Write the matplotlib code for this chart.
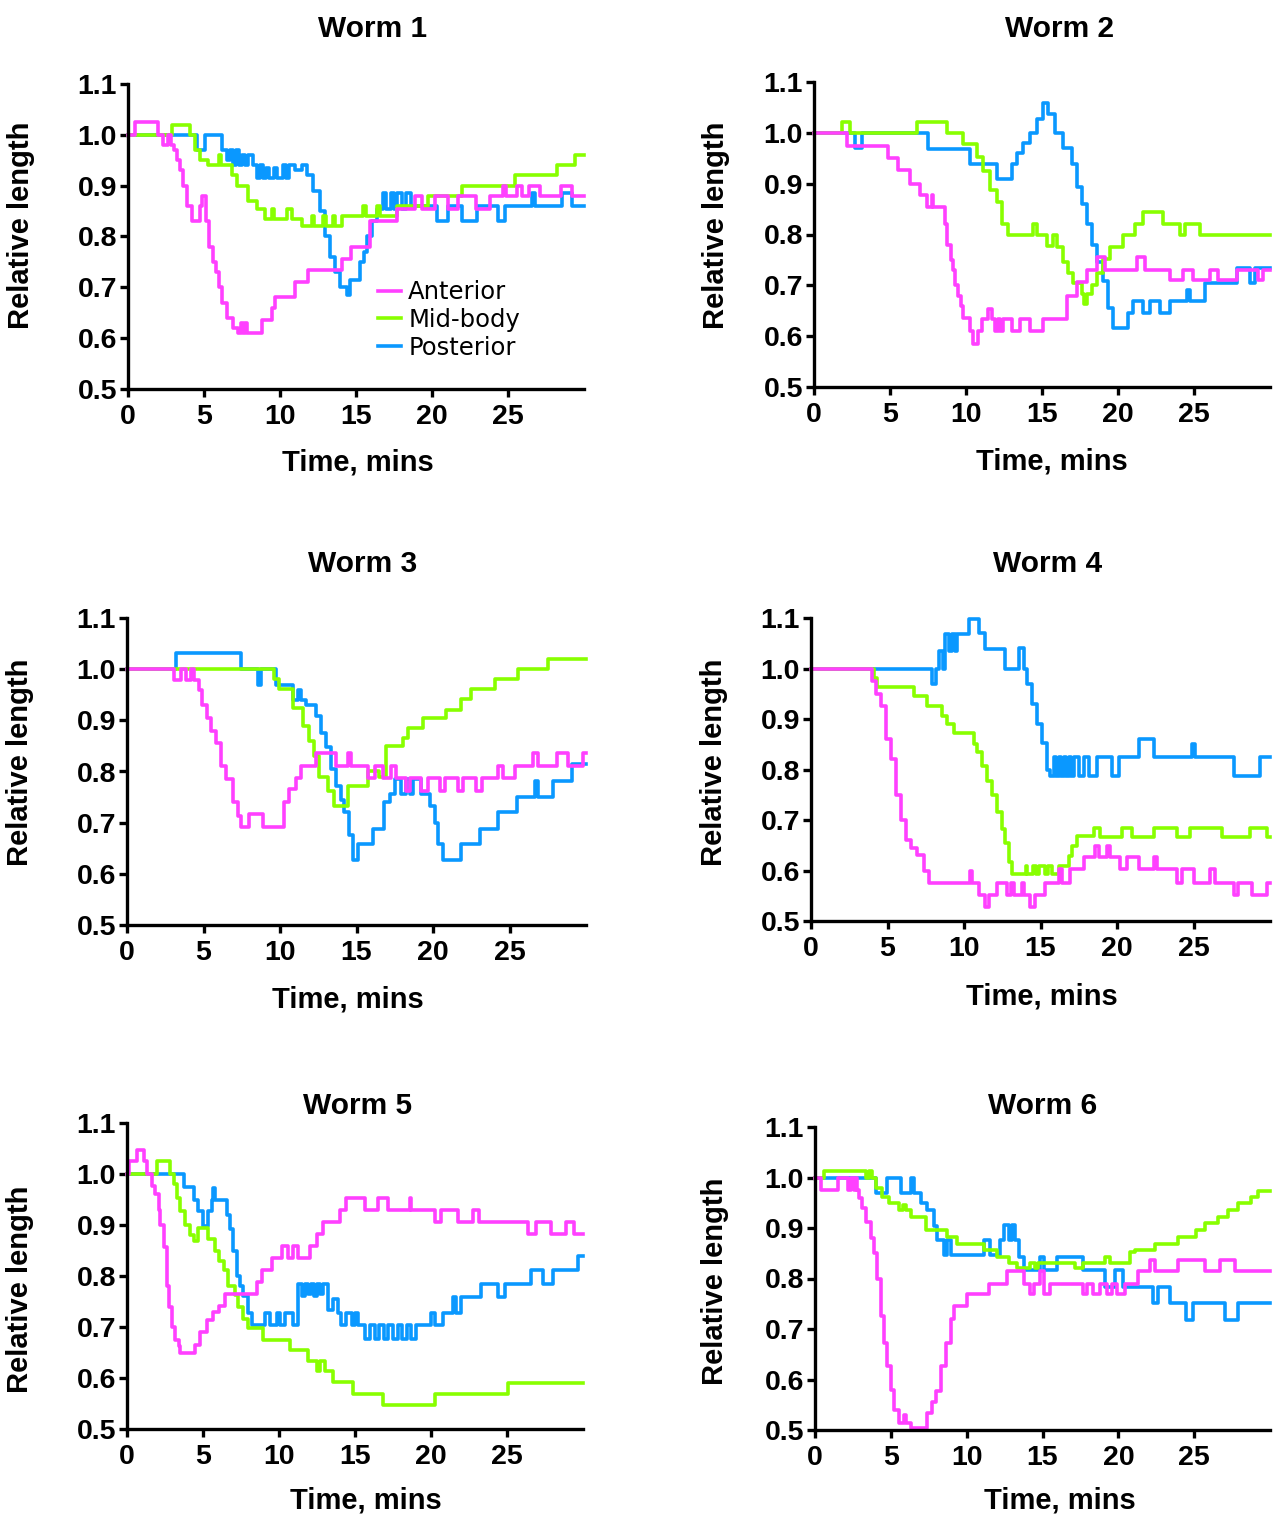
import numpy as np
import matplotlib
matplotlib.use("Agg")
from matplotlib import pyplot as plt, ticker as mtick

# Step traces: (time in mins, relative length) at each change
w1_anterior = [(0, 1.0), (0.46, 1.025), (2.0, 1.0), (2.3, 0.98), (2.6, 1.0), (2.8, 0.98), (3.0, 0.97), (3.2, 0.95),
               (3.4, 0.93), (3.6, 0.90), (3.9, 0.86), (4.19, 0.83), (4.74, 0.86), (4.9, 0.88), (5.1, 0.83), (5.3, 0.78),
               (5.6, 0.75), (5.8, 0.73), (6.0, 0.70), (6.2, 0.67), (6.5, 0.64), (6.9, 0.62), (7.26, 0.61), (7.45, 0.63),
               (7.55, 0.61), (7.7, 0.63), (7.8, 0.61), (8.8, 0.635), (9.45, 0.66), (9.67, 0.68), (10.99, 0.71),
               (11.86, 0.735), (14.06, 0.755), (14.7, 0.78), (15.9, 0.83), (17.7, 0.855), (18.88, 0.88), (19.32, 0.855),
               (20.2, 0.88), (21.07, 0.855), (21.7, 0.88), (22.9, 0.855), (23.8, 0.88), (24.7, 0.90), (24.9, 0.88),
               (25.6, 0.90), (25.9, 0.88), (26.4, 0.90), (27.1, 0.88), (28.5, 0.90), (29.2, 0.88), (30.0, 0.88)]
w1_midbody = [(0, 1.0), (2.87, 1.02), (4.08, 1.0), (4.41, 0.97), (4.74, 0.95), (5.29, 0.94), (6.0, 0.96), (6.15, 0.94),
              (6.82, 0.92), (7.15, 0.90), (7.92, 0.87), (8.47, 0.855), (9.01, 0.835), (9.45, 0.855), (9.6, 0.835),
              (10.44, 0.855), (10.77, 0.835), (11.43, 0.82), (12.08, 0.84), (12.25, 0.82), (12.85, 0.84), (13.0, 0.82),
              (13.51, 0.84), (13.65, 0.82), (14.06, 0.84), (15.48, 0.86), (15.65, 0.84), (16.36, 0.86), (16.55, 0.84),
              (17.67, 0.86), (19.76, 0.88), (21.95, 0.90), (25.46, 0.92), (28.2, 0.94), (29.4, 0.96), (30.0, 0.96)]
w1_posterior = [(0, 1.0), (4.52, 0.97), (5.07, 1.0), (6.16, 0.97), (6.49, 0.95), (6.7, 0.97), (6.9, 0.94), (7.1, 0.97),
                (7.3, 0.94), (7.5, 0.96), (7.7, 0.94), (7.9, 0.96), (8.25, 0.94), (8.5, 0.915), (8.7, 0.94), (8.9, 0.915),
                (9.1, 0.935), (9.3, 0.915), (9.6, 0.935), (9.8, 0.915), (10.2, 0.94), (10.4, 0.915), (10.6, 0.94),
                (11.0, 0.93), (11.43, 0.94), (11.75, 0.92), (12.19, 0.89), (12.63, 0.85), (12.96, 0.80), (13.29, 0.76),
                (13.62, 0.73), (13.95, 0.70), (14.39, 0.685), (14.61, 0.715), (15.26, 0.75), (15.5, 0.77), (15.7, 0.80),
                (16.03, 0.83), (16.36, 0.855), (16.8, 0.885), (17.0, 0.855), (17.3, 0.885), (17.5, 0.855), (17.67, 0.885),
                (18.0, 0.855), (18.3, 0.885), (18.6, 0.86), (20.3, 0.83), (21.07, 0.86), (21.95, 0.83), (22.94, 0.86),
                (24.36, 0.83), (24.8, 0.86), (26.56, 0.885), (26.78, 0.86), (28.53, 0.885), (29.2, 0.86), (30.0, 0.86)]

w2_anterior = [(0, 1.0), (2.15, 0.974), (4.89, 0.95), (5.55, 0.926), (6.32, 0.90), (6.97, 0.877), (7.41, 0.854),
               (7.74, 0.877), (7.85, 0.854), (8.62, 0.82), (8.75, 0.78), (9.0, 0.75), (9.17, 0.73), (9.3, 0.70),
               (9.5, 0.68), (9.65, 0.66), (9.82, 0.635), (10.26, 0.61), (10.48, 0.585), (10.81, 0.61), (11.03, 0.633),
               (11.47, 0.653), (11.69, 0.633), (11.91, 0.61), (12.1, 0.633), (12.24, 0.61), (12.46, 0.633), (13.0, 0.61),
               (13.55, 0.633), (14.21, 0.61), (15.09, 0.633), (16.62, 0.68), (17.28, 0.706), (17.94, 0.73), (18.6, 0.755),
               (19.14, 0.73), (21.23, 0.755), (21.78, 0.73), (23.42, 0.71), (24.3, 0.73), (24.96, 0.71), (26.05, 0.73),
               (26.6, 0.71), (27.81, 0.73), (29.23, 0.71), (29.56, 0.73), (30.0, 0.73)]
w2_midbody = [(0, 1.0), (1.82, 1.022), (2.37, 1.0), (6.75, 1.022), (8.73, 1.0), (9.82, 0.979), (10.7, 0.953),
              (11.14, 0.924), (11.58, 0.887), (12.02, 0.864), (12.35, 0.82), (12.79, 0.80), (14.43, 0.82), (14.65, 0.80),
              (15.31, 0.778), (15.75, 0.80), (15.96, 0.775), (16.4, 0.745), (16.73, 0.725), (17.06, 0.705), (17.61, 0.682),
              (17.75, 0.664), (17.94, 0.682), (18.27, 0.70), (18.6, 0.725), (19.04, 0.752), (19.47, 0.775), (20.35, 0.80),
              (21.12, 0.82), (21.67, 0.845), (22.98, 0.82), (24.08, 0.80), (24.41, 0.82), (25.39, 0.80), (30.0, 0.80)]
w2_posterior = [(0, 1.0), (2.7, 0.97), (3.14, 1.0), (7.52, 0.969), (10.26, 0.939), (12.02, 0.91), (13.0, 0.939),
                (13.33, 0.96), (13.77, 0.98), (14.21, 1.0), (14.65, 1.028), (15.09, 1.058), (15.42, 1.038), (15.86, 1.0),
                (16.4, 0.97), (16.95, 0.939), (17.28, 0.893), (17.61, 0.86), (17.94, 0.82), (18.27, 0.78), (18.6, 0.745),
                (19.04, 0.709), (19.36, 0.656), (19.69, 0.617), (20.68, 0.646), (21.01, 0.669), (21.67, 0.646),
                (22.1, 0.669), (22.76, 0.646), (23.42, 0.669), (24.52, 0.69), (24.74, 0.669), (25.72, 0.705),
                (27.81, 0.735), (28.68, 0.705), (29.01, 0.735), (30.0, 0.735)]

w3_anterior = [(0, 1.0), (3.08, 0.978), (3.52, 1.0), (3.84, 0.978), (4.17, 1.0), (4.39, 0.978), (4.72, 0.96),
               (4.93, 0.93), (5.2, 0.905), (5.48, 0.88), (5.81, 0.856), (6.14, 0.811), (6.46, 0.785), (6.9, 0.74),
               (7.23, 0.714), (7.45, 0.691), (7.99, 0.717), (8.86, 0.691), (10.28, 0.741), (10.61, 0.766),
               (11.05, 0.788), (11.38, 0.811), (12.36, 0.836), (13.67, 0.811), (14.43, 0.836), (14.65, 0.811),
               (15.74, 0.788), (16.18, 0.811), (16.72, 0.788), (17.27, 0.811), (17.6, 0.788), (18.25, 0.762),
               (18.47, 0.788), (19.24, 0.762), (19.67, 0.788), (20.44, 0.762), (20.76, 0.788), (21.64, 0.762),
               (21.97, 0.788), (22.84, 0.762), (23.17, 0.788), (24.26, 0.811), (24.59, 0.788), (25.35, 0.811),
               (26.55, 0.836), (26.88, 0.811), (28.08, 0.836), (28.84, 0.811), (29.83, 0.836), (30.0, 0.836)]
w3_midbody = [(0, 1.0), (9.63, 0.98), (9.96, 0.962), (10.83, 0.924), (11.48, 0.889), (11.92, 0.86), (12.25, 0.83),
              (12.58, 0.79), (13.12, 0.762), (13.56, 0.733), (14.43, 0.772), (15.74, 0.80), (16.5, 0.79),
              (16.94, 0.849), (18.03, 0.865), (18.36, 0.885), (19.34, 0.905), (20.87, 0.921), (21.86, 0.942),
              (22.51, 0.961), (24.04, 0.981), (25.57, 1.0), (27.53, 1.019), (30.0, 1.019)]
w3_posterior = [(0, 1.0), (3.19, 1.031), (7.45, 1.0), (8.54, 0.97), (8.76, 1.0), (9.74, 0.97), (10.83, 0.94),
                (11.2, 0.96), (11.4, 0.94), (11.7, 0.93), (12.36, 0.908), (12.69, 0.876), (13.01, 0.847), (13.34, 0.805),
                (13.67, 0.772), (14.0, 0.745), (14.21, 0.72), (14.54, 0.675), (14.76, 0.627), (15.09, 0.659),
                (16.07, 0.688), (16.83, 0.74), (17.16, 0.756), (17.49, 0.785), (17.93, 0.756), (18.25, 0.785),
                (18.47, 0.756), (18.69, 0.785), (19.24, 0.756), (19.78, 0.733), (20.11, 0.70), (20.33, 0.659),
                (20.66, 0.627), (21.86, 0.659), (23.06, 0.688), (24.26, 0.72), (25.46, 0.751), (26.66, 0.782),
                (26.88, 0.751), (27.86, 0.782), (29.06, 0.814), (30.0, 0.814)]

w4_anterior = [(0, 1.0), (4.0, 0.976), (4.22, 0.95), (4.55, 0.926), (4.87, 0.86), (5.2, 0.82), (5.53, 0.75),
               (5.85, 0.70), (6.18, 0.66), (6.51, 0.645), (6.94, 0.63), (7.38, 0.60), (7.7, 0.575), (10.42, 0.60),
               (10.53, 0.575), (10.97, 0.551), (11.4, 0.527), (11.62, 0.551), (12.17, 0.575), (12.82, 0.551),
               (13.04, 0.575), (13.25, 0.551), (13.8, 0.575), (13.91, 0.551), (14.34, 0.527), (14.67, 0.551),
               (15.32, 0.575), (16.19, 0.603), (16.41, 0.575), (16.95, 0.603), (17.82, 0.626), (18.59, 0.649),
               (18.8, 0.626), (19.35, 0.649), (19.56, 0.626), (20.22, 0.603), (20.65, 0.626), (21.41, 0.603),
               (22.39, 0.626), (22.61, 0.603), (23.92, 0.575), (24.24, 0.603), (25.01, 0.575), (26.09, 0.603),
               (26.42, 0.575), (27.62, 0.551), (27.94, 0.575), (28.81, 0.551), (29.79, 0.575), (30.0, 0.575)]
w4_midbody = [(0, 1.0), (4.11, 0.982), (4.33, 0.964), (6.72, 0.945), (7.6, 0.926), (8.57, 0.905), (8.9, 0.89),
              (9.34, 0.872), (10.64, 0.85), (10.86, 0.834), (11.19, 0.807), (11.51, 0.778), (11.84, 0.75),
              (12.17, 0.715), (12.49, 0.682), (12.71, 0.655), (12.93, 0.616), (13.14, 0.593), (14.02, 0.609),
              (14.12, 0.593), (14.5, 0.609), (14.7, 0.593), (14.89, 0.609), (15.3, 0.593), (15.5, 0.609),
              (15.76, 0.593), (16.19, 0.609), (16.84, 0.629), (17.06, 0.649), (17.39, 0.669), (18.48, 0.685),
              (18.91, 0.667), (20.33, 0.685), (20.98, 0.667), (22.39, 0.685), (23.92, 0.667), (24.79, 0.685),
              (26.86, 0.667), (28.71, 0.685), (29.79, 0.667), (30.0, 0.667)]
w4_posterior = [(0, 1.0), (7.92, 0.97), (8.14, 1.0), (8.36, 1.035), (8.6, 1.0), (8.79, 1.068), (9.0, 1.035),
                (9.23, 1.068), (9.4, 1.035), (9.55, 1.068), (10.32, 1.098), (10.97, 1.07), (11.4, 1.038), (12.71, 1.0),
                (13.58, 1.04), (13.91, 1.0), (14.12, 0.97), (14.45, 0.93), (14.78, 0.89), (15.1, 0.853), (15.43, 0.80),
                (15.65, 0.787), (15.87, 0.824), (16.03, 0.787), (16.19, 0.824), (16.35, 0.787), (16.52, 0.824),
                (16.68, 0.787), (16.84, 0.824), (17.0, 0.787), (17.17, 0.824), (17.5, 0.787), (17.82, 0.824),
                (18.15, 0.787), (18.69, 0.824), (19.67, 0.787), (20.11, 0.824), (21.41, 0.86), (22.39, 0.824),
                (24.9, 0.85), (25.11, 0.824), (27.62, 0.787), (29.36, 0.824), (30.0, 0.824)]

w5_anterior = [(0, 1.0), (0.11, 1.025), (0.66, 1.047), (1.09, 1.025), (1.31, 1.0), (1.64, 0.976), (1.86, 0.96),
               (2.08, 0.93), (2.19, 0.90), (2.41, 0.856), (2.63, 0.78), (2.74, 0.74), (2.95, 0.70), (3.17, 0.675),
               (3.39, 0.662), (3.5, 0.649), (4.49, 0.665), (4.81, 0.69), (5.25, 0.714), (5.69, 0.73), (6.02, 0.741),
               (6.46, 0.764), (8.53, 0.788), (8.86, 0.811), (9.52, 0.835), (10.18, 0.858), (10.61, 0.835),
               (10.94, 0.858), (11.27, 0.835), (12.04, 0.858), (12.47, 0.882), (12.91, 0.906), (14.0, 0.929),
               (14.44, 0.953), (15.65, 0.929), (16.52, 0.953), (17.18, 0.929), (18.6, 0.953), (18.71, 0.929),
               (20.24, 0.905), (20.68, 0.929), (21.77, 0.905), (22.76, 0.929), (23.19, 0.905), (26.37, 0.882),
               (26.91, 0.905), (27.9, 0.882), (28.88, 0.905), (29.43, 0.882), (30.0, 0.882)]
w5_midbody = [(0, 1.0), (1.97, 1.025), (2.84, 1.0), (3.06, 0.98), (3.28, 0.953), (3.5, 0.928), (3.83, 0.90),
              (4.16, 0.88), (4.38, 0.869), (4.7, 0.894), (5.36, 0.872), (5.8, 0.85), (6.02, 0.83), (6.35, 0.811),
              (6.67, 0.78), (7.11, 0.762), (7.33, 0.74), (7.66, 0.715), (7.99, 0.698), (8.97, 0.675), (10.72, 0.654),
              (11.93, 0.633), (12.47, 0.614), (12.69, 0.633), (13.02, 0.614), (13.57, 0.592), (14.88, 0.568),
              (16.85, 0.547), (20.24, 0.568), (25.05, 0.59), (30.0, 0.59)]
w5_posterior = [(0, 1.0), (3.72, 0.974), (4.38, 0.95), (4.7, 0.928), (5.03, 0.898), (5.36, 0.928), (5.58, 0.95),
                (5.69, 0.973), (5.8, 0.95), (6.56, 0.92), (6.78, 0.892), (7.0, 0.85), (7.22, 0.80), (7.44, 0.78),
                (7.66, 0.76), (7.99, 0.727), (8.21, 0.704), (9.08, 0.727), (9.41, 0.704), (9.85, 0.727), (10.07, 0.704),
                (10.39, 0.727), (10.94, 0.704), (11.27, 0.785), (11.5, 0.76), (11.7, 0.785), (11.9, 0.765),
                (12.1, 0.785), (12.3, 0.76), (12.5, 0.785), (12.7, 0.765), (12.9, 0.785), (13.24, 0.733),
                (13.57, 0.755), (13.89, 0.727), (14.11, 0.704), (14.44, 0.727), (14.77, 0.704), (14.99, 0.727),
                (15.21, 0.704), (15.65, 0.676), (16.0, 0.704), (16.3, 0.676), (16.6, 0.704), (16.9, 0.676),
                (17.2, 0.704), (17.5, 0.676), (17.8, 0.704), (18.1, 0.676), (18.4, 0.704), (18.7, 0.676), (19.0, 0.704),
                (20.02, 0.727), (20.24, 0.704), (20.79, 0.727), (21.44, 0.759), (21.66, 0.727), (21.99, 0.759),
                (23.3, 0.785), (24.4, 0.759), (24.84, 0.785), (26.59, 0.812), (27.35, 0.785), (28.01, 0.812),
                (29.65, 0.84), (30.0, 0.84)]

w6_anterior = [(0, 1.0), (0.39, 0.976), (1.49, 1.0), (2.15, 0.976), (2.37, 1.0), (2.58, 0.976), (2.69, 1.0),
               (2.8, 0.976), (2.91, 0.96), (3.13, 0.94), (3.35, 0.912), (3.68, 0.88), (3.9, 0.85), (4.12, 0.80),
               (4.34, 0.725), (4.56, 0.672), (4.78, 0.626), (4.99, 0.58), (5.21, 0.54), (5.54, 0.514), (5.87, 0.53),
               (6.0, 0.514), (6.31, 0.503), (7.4, 0.534), (7.73, 0.555), (7.95, 0.577), (8.28, 0.626), (8.61, 0.672),
               (8.94, 0.72), (9.16, 0.745), (10.03, 0.77), (11.46, 0.79), (12.66, 0.814), (13.76, 0.79), (14.2, 0.77),
               (14.41, 0.79), (14.85, 0.814), (15.07, 0.77), (15.51, 0.79), (17.7, 0.77), (17.92, 0.79), (18.36, 0.77),
               (18.8, 0.79), (19.23, 0.77), (19.56, 0.79), (19.89, 0.77), (20.44, 0.79), (21.31, 0.814),
               (22.08, 0.837), (22.41, 0.814), (23.94, 0.837), (25.7, 0.814), (26.68, 0.837), (27.67, 0.814),
               (30.0, 0.814)]
w6_midbody = [(0, 1.0), (0.61, 1.013), (3.35, 1.0), (3.57, 1.013), (3.79, 1.0), (4.01, 0.98), (4.45, 0.962),
              (4.88, 0.95), (5.54, 0.935), (5.8, 0.945), (6.0, 0.935), (6.31, 0.922), (7.29, 0.896), (8.72, 0.882),
              (9.38, 0.868), (11.13, 0.857), (12.0, 0.843), (12.77, 0.83), (13.32, 0.82), (14.2, 0.83), (14.5, 0.82),
              (14.7, 0.83), (17.15, 0.82), (17.7, 0.83), (19.12, 0.843), (19.45, 0.83), (20.77, 0.853), (21.1, 0.857),
              (22.41, 0.868), (23.94, 0.882), (25.15, 0.896), (25.7, 0.909), (26.57, 0.922), (27.23, 0.935),
              (27.89, 0.95), (28.76, 0.962), (29.2, 0.974), (30.0, 0.974)]
w6_posterior = [(0, 1.0), (4.01, 0.97), (4.78, 1.0), (5.65, 0.97), (6.31, 1.0), (6.53, 0.97), (6.97, 0.95),
                (7.4, 0.935), (7.84, 0.903), (8.06, 0.876), (8.5, 0.847), (8.72, 0.876), (8.94, 0.847), (11.13, 0.876),
                (11.57, 0.847), (12.22, 0.876), (12.44, 0.906), (12.8, 0.876), (13.0, 0.906), (13.21, 0.876),
                (13.43, 0.843), (13.76, 0.817), (14.85, 0.843), (15.07, 0.817), (15.95, 0.843), (17.7, 0.817),
                (19.12, 0.784), (19.78, 0.817), (20.33, 0.784), (22.3, 0.751), (22.63, 0.784), (23.4, 0.751),
                (24.49, 0.718), (24.93, 0.751), (27.01, 0.718), (27.89, 0.751), (30.0, 0.751)]

titles = ["Worm 1", "Worm 2", "Worm 3", "Worm 4", "Worm 5", "Worm 6"]
traces = [(w1_anterior, w1_midbody, w1_posterior), (w2_anterior, w2_midbody, w2_posterior),
          (w3_anterior, w3_midbody, w3_posterior), (w4_anterior, w4_midbody, w4_posterior),
          (w5_anterior, w5_midbody, w5_posterior), (w6_anterior, w6_midbody, w6_posterior)]
series_names = ["Anterior", "Mid-body", "Posterior"]
series_colors = ["#ff40ff", "#88ff00", "#0a98ff"]
x_ticks = [0, 5, 10, 15, 20, 25]
y_ticks = [0.5, 0.6, 0.7, 0.8, 0.9, 1.0, 1.1]

# Layout (pixels): axes box left, top, right, bottom; title centre x and baseline y
W, H = 1273, 1518
panel_box = [(128, 84, 584, 389), (814, 82, 1270, 387), (127, 618, 586, 925),
             (811, 618, 1270, 921), (127, 1123, 583, 1429), (815, 1127, 1270, 1430)]
title_pos = [(373, 37), (1060, 37), (363, 572), (1048, 572), (358, 1114), (1043, 1114)]
xlabel_pos = [(0.504, -0.196), (0.522, -0.199), (0.481, -0.198), (0.503, -0.204), (0.524, -0.189), (0.538, -0.186)]
ylabel_pos = [(-0.205, 0.538), (-0.185, 0.531), (-0.202, 0.531), (-0.180, 0.525), (-0.203, 0.458), (-0.189, 0.492)]

plt.rcParams["font.family"] = ["Liberation Sans", "DejaVu Sans"]
plt.rcParams["font.weight"] = "bold"

fig = plt.figure(figsize=(W / 100, H / 100), dpi=100)

for i in range(6):
  l, t, r, b = panel_box[i]
  ax = fig.add_axes([l / W, 1 - b / H, (r - l) / W, (b - t) / H])

  # Draw posterior first so anterior sits on top, as in the original
  handles = {}
  for k in [2, 1, 0]:
    x, y = zip(*traces[i][k])
    handles[k], = ax.plot(x, y, drawstyle="steps-post", color=series_colors[k], lw=2.6,
                          clip_on=False, label=series_names[k])

  ax.set_xlim(0, 30)
  ax.set_ylim(0.5, 1.1)
  ax.set_xticks(x_ticks)
  ax.set_yticks(y_ticks)
  ax.yaxis.set_major_formatter(mtick.FormatStrFormatter("%.1f"))
  for side in ["top", "right"]:
    ax.spines[side].set_visible(False)
  for side in ["left", "bottom"]:
    ax.spines[side].set_linewidth(2.4)
  ax.tick_params(direction="out", length=6, width=2.4, labelsize=20.5)
  ax.tick_params(axis="y", pad=2)
  ax.tick_params(axis="x", pad=4.5)

  ax.set_xlabel("Time, mins", fontsize=21, fontweight="bold")
  ax.set_ylabel("Relative length", fontsize=21, fontweight="bold")
  ax.xaxis.set_label_coords(*xlabel_pos[i])
  ax.yaxis.set_label_coords(*ylabel_pos[i])

  fig.text(title_pos[i][0] / W, 1 - title_pos[i][1] / H, titles[i], ha="center", va="baseline",
           fontsize=21.5, fontweight="bold")

  if i == 0:
    leg = ax.legend([handles[0], handles[1], handles[2]], series_names, loc="upper left",
                    bbox_to_anchor=(0.548, 0.357), frameon=False, borderpad=0, borderaxespad=0,
                    handlelength=0.95, handletextpad=0.3, labelspacing=0.16,
                    prop={"family": "DejaVu Sans", "weight": "normal", "size": 17.5})

fig.savefig("out.png", dpi=100)
